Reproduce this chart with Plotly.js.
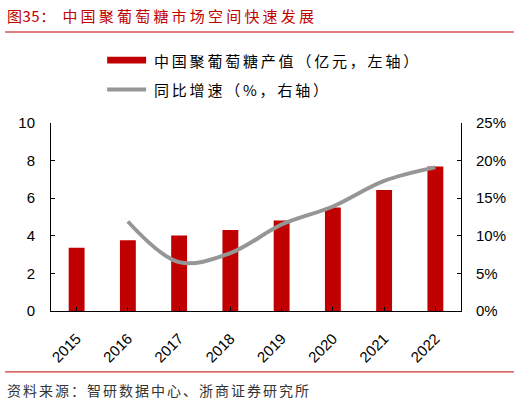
<!DOCTYPE html>
<html>
<head>
<meta charset="utf-8">
<script src="https://cdn.plot.ly/plotly-3.0.1.min.js"></script>
<style>
  html, body { margin: 0; padding: 0; background: #fff; }
  #chart { width: 520px; height: 403px; }
</style>
</head>
<body>
<div id="chart"></div>
<script>
// data
const years = ['2015', '2016', '2017', '2018', '2019', '2020', '2021', '2022'];
const outputValue = [3.37, 3.76, 4.01, 4.31, 4.82, 5.50, 6.44, 7.68];   // 亿元
const growthPct = [null, 11.9, 6.5, 7.7, 11.5, 13.9, 17.3, 19.1];       // %

const RED = '#C00000';
const GREY = '#969696';
const FONT = '"Noto Sans CJK SC", "Liberation Sans", Arial, sans-serif';
const NUMFONT = '"Liberation Sans", Arial, sans-serif';

// wider character spacing like the original typesetting
const spaced = (s, px) => `<span style="letter-spacing:${px}px">${s}</span>`;

const traces = [
  {
    x: years, y: outputValue, type: 'bar', name: '中国聚葡萄糖产值（亿元，左轴）',
    marker: { color: RED }, yaxis: 'y', hoverinfo: 'skip'
  },
  {
    x: years, y: growthPct, type: 'scatter', mode: 'lines', name: '同比增速（%，右轴）',
    line: { color: GREY, width: 4, shape: 'spline', smoothing: 1 },
    yaxis: 'y2', connectgaps: false, hoverinfo: 'skip'
  }
];

const axisCommon = {
  showline: true, linecolor: '#000', linewidth: 1,
  ticks: 'inside', ticklen: 4, tickcolor: '#000',
  showgrid: false, zeroline: false,
  tickfont: { family: NUMFONT, size: 15, color: '#000' }
};

const layout = {
  width: 520, height: 403,
  margin: { l: 51, r: 59, t: 123, b: 92 },
  paper_bgcolor: '#fff', plot_bgcolor: '#fff',
  showlegend: false,
  bargap: 0.69,
  xaxis: { ...axisCommon, type: 'category', tickangle: -45, range: [-0.5, 7.5], ticklabelstandoff: 12 },
  yaxis: { ...axisCommon, range: [0, 10], dtick: 2, ticklabelstandoff: 12 },
  yaxis2: { ...axisCommon, overlaying: 'y', side: 'right', range: [0, 25], dtick: 5, ticksuffix: '%', ticklabelstandoff: 11 },
  shapes: [
    // header / footer rules
    { type: 'line', xref: 'paper', yref: 'paper', x0: -0.112, x1: 1.129, y0: 1.484, y1: 1.484, line: { color: RED, width: 1 } },
    { type: 'line', xref: 'paper', yref: 'paper', x0: -0.112, x1: 1.129, y0: -0.324, y1: -0.324, line: { color: RED, width: 1 } },
    // legend symbols
    { type: 'rect', xref: 'paper', yref: 'paper', x0: 0.137, x1: 0.232, y0: 1.316, y1: 1.352, fillcolor: RED, line: { width: 0 } },
    { type: 'line', xref: 'paper', yref: 'paper', x0: 0.137, x1: 0.232, y0: 1.178, y1: 1.178, line: { color: GREY, width: 4 } }
  ],
  annotations: [
    { text: spaced('图35：', 0.5) + '  ' + spaced('中国聚葡萄糖市场空间快速发展', 3.2), xref: 'paper', yref: 'paper', x: -0.112, y: 1.574,
      xanchor: 'left', yanchor: 'middle', showarrow: false, font: { family: FONT, size: 15, color: RED } },
    { text: spaced('中国聚葡萄糖产值（亿元，左轴）', 2.8), xref: 'paper', yref: 'paper', x: 0.246, y: 1.335,
      xanchor: 'left', yanchor: 'middle', showarrow: false, font: { family: FONT, size: 15, color: '#000' } },
    { text: spaced('同比增速（%，右轴）', 2.8), xref: 'paper', yref: 'paper', x: 0.246, y: 1.178,
      xanchor: 'left', yanchor: 'middle', showarrow: false, font: { family: FONT, size: 15, color: '#000' } },
    { text: spaced('资料来源：智研数据中心、浙商证券研究所', 2), xref: 'paper', yref: 'paper', x: -0.112, y: -0.42,
      xanchor: 'left', yanchor: 'middle', showarrow: false, font: { family: FONT, size: 14, color: '#333' } }
  ]
};

Plotly.newPlot('chart', traces, layout, { displayModeBar: false, staticPlot: true });
</script>
</body>
</html>
